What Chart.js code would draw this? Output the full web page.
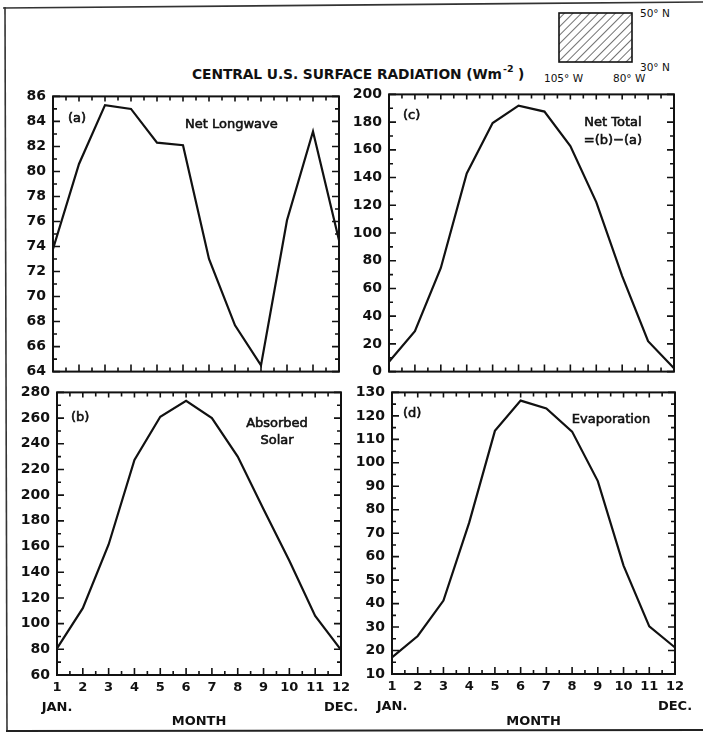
<!DOCTYPE html>
<html><head><meta charset="utf-8">
<script src="https://cdn.jsdelivr.net/npm/chart.js@4.4.0/dist/chart.umd.min.js"></script>
<style>
html,body{margin:0;padding:0;background:#fff;}
body{width:703px;height:741px;position:relative;overflow:hidden;font-family:"DejaVu Sans",sans-serif;}
canvas{position:absolute;}
svg{position:absolute;left:0;top:0;}
</style></head><body>
<svg width="703" height="741">
  <defs>
    <pattern id="hatch" width="6" height="6" patternUnits="userSpaceOnUse" patternTransform="rotate(45)">
      <line x1="0" y1="0" x2="0" y2="6" stroke="#111" stroke-width="1.2"/>
    </pattern>
  </defs>
  <line x1="3" y1="8" x2="703" y2="2" stroke="#333" stroke-width="1.6"/>
  <line x1="5" y1="7" x2="7" y2="731" stroke="#333" stroke-width="1.6"/>
  <line x1="6" y1="731" x2="703" y2="730" stroke="#222" stroke-width="2"/>
  <g font-family="DejaVu Sans" fill="#111">
    <text x="192" y="79" font-size="13.8" font-weight="bold" textLength="310" lengthAdjust="spacing">CENTRAL U.S. SURFACE RADIATION (Wm</text>
    <text x="503" y="72" font-size="9.5" font-weight="bold">-2</text>
    <text x="518" y="79" font-size="13.8" font-weight="bold">)</text>
    <rect x="559" y="13" width="73" height="49" fill="url(#hatch)" stroke="#111" stroke-width="1.6"/>
    <text x="640" y="17" font-size="10.5">50° N</text>
    <text x="640" y="71" font-size="10.5">30° N</text>
    <text x="544" y="82" font-size="10.5">105° W</text>
    <text x="613" y="82" font-size="10.5">80° W</text>
  </g>
</svg>
<canvas id="ca"></canvas>
<canvas id="cc"></canvas>
<canvas id="cb"></canvas>
<canvas id="cd"></canvas>
<script>
// ---- data ----
const months = ['1','2','3','4','5','6','7','8','9','10','11','12'];
const xTickLabels = [['1','JAN.'],'2','3','4','5','6','7','8','9','10','11',['12','DEC.']];
const netLongwave   = [73.8, 80.6, 85.3, 85.0, 82.3, 82.1, 73.0, 67.7, 64.5, 76.1, 83.2, 74.5];
const absorbedSolar = [80.8, 112.0, 161.6, 227.4, 261.0, 273.5, 260.0, 230.0, 189.0, 149.0, 106.0, 79.5];
const netTotal      = [7.1, 29.2, 74.8, 143.0, 179.3, 191.9, 187.6, 162.7, 122.3, 68.9, 21.9, 2.4];
const evaporation   = [17.1, 26.2, 41.3, 74.5, 113.6, 126.5, 123.2, 113.3, 92.2, 56.2, 30.3, 21.3];
// y-axis tick ranges [min, max, step]
const netLongwaveTicks   = [64, 86, 2];
const absorbedSolarTicks = [60, 280, 20];
const netTotalTicks      = [0, 200, 20];
const evaporationTicks   = [10, 130, 10];
// panel annotations
const labelsA = ['(a)', 'Net Longwave'];
const labelsB = ['(b)', 'Absorbed', 'Solar'];
const labelsC = ['(c)', 'Net Total', '=(b)−(a)'];
const labelsD = ['(d)', 'Evaporation'];
const xAxisTitle = 'MONTH';

const INK = '#111';
const framePlugin = {
  id: 'frameTicks',
  afterDatasetsDraw(chart, args, opts) {
    const {ctx, chartArea: a, scales: {x, y}} = chart;
    ctx.save();
    ctx.strokeStyle = INK;
    ctx.lineWidth = 1.6;
    ctx.beginPath();
    const yt = y.ticks.map(t => t.value);
    yt.forEach((v, i) => {
      const py = y.getPixelForValue(v);
      ctx.moveTo(a.left, py); ctx.lineTo(a.left + 7, py);
      ctx.moveTo(a.right, py); ctx.lineTo(a.right - 7, py);
      if (i < yt.length - 1) {
        const pm = y.getPixelForValue((v + yt[i + 1]) / 2);
        ctx.moveTo(a.left, pm); ctx.lineTo(a.left + 4, pm);
        ctx.moveTo(a.right, pm); ctx.lineTo(a.right - 4, pm);
      }
    });
    for (let i = 0; i < months.length; i++) {
      const px = x.getPixelForValue(i);
      ctx.moveTo(px, a.bottom); ctx.lineTo(px, a.bottom - 7);
      ctx.moveTo(px, a.top); ctx.lineTo(px, a.top + 5);
      if (i < months.length - 1) {
        const pm = x.getPixelForValue(i + 0.5);
        ctx.moveTo(pm, a.bottom); ctx.lineTo(pm, a.bottom - 4);
        ctx.moveTo(pm, a.top); ctx.lineTo(pm, a.top + 4);
      }
    }
    ctx.stroke();
    ctx.lineWidth = 2;
    ctx.strokeRect(a.left, a.top, a.right - a.left, a.bottom - a.top);
    ctx.fillStyle = INK;
    ctx.textBaseline = 'middle';
    ctx.font = '13px "DejaVu Sans"';
    ctx.lineWidth = 0.6;
    (opts.notes || []).forEach(n => {
      ctx.textAlign = n.align || 'left';
      ctx.fillText(n.text, a.left + n.dx, a.top + n.dy);
      ctx.strokeText(n.text, a.left + n.dx, a.top + n.dy);
    });
    ctx.restore();
  }
};

function makePanel(id, box, values, ticks, notes, bottomAxis) {
  const padTop = 15, padRight = 28;
  const cv = document.getElementById(id);
  const left = box.l - 55;
  const top = box.t - padTop;
  const w = (box.r - box.l) + 55 + padRight;
  const h = bottomAxis ? (741 - top) : (box.b - top + 12);
  cv.width = w; cv.height = h;
  cv.style.left = left + 'px'; cv.style.top = top + 'px';
  cv.style.width = w + 'px'; cv.style.height = h + 'px';
  new Chart(cv, {
    type: 'line',
    data: {
      labels: months,
      datasets: [{
        data: values,
        borderColor: INK,
        borderWidth: 2.2,
        pointRadius: 0,
        tension: 0,
        fill: false,
        clip: false
      }]
    },
    options: {
      responsive: false,
      animation: false,
      events: [],
      devicePixelRatio: 1,
      layout: {padding: {left: 0, top: padTop, right: padRight, bottom: bottomAxis ? 0 : 12}},
      plugins: {
        legend: {display: false},
        tooltip: {enabled: false},
        frameTicks: {notes: notes}
      },
      scales: {
        x: {
          type: 'category',
          offset: false,
          grid: {display: false, drawTicks: false},
          border: {display: false},
          ticks: {
            display: bottomAxis,
            autoSkip: false,
            maxRotation: 0, minRotation: 0,
            padding: 3,
            color: INK,
            font: {family: 'DejaVu Sans', size: 13, weight: 'bold', lineHeight: 1.5},
            callback: (v, i) => xTickLabels[i]
          },
          title: {
            display: bottomAxis,
            text: xAxisTitle,
            color: INK,
            font: {family: 'DejaVu Sans', size: 13, weight: 'bold', lineHeight: 1.2},
            padding: {top: 0, bottom: 12}
          },
          afterFit: s => { s.height = bottomAxis ? (741 - box.b) : 0; }
        },
        y: {
          type: 'linear',
          min: ticks[0], max: ticks[1],
          grid: {display: false, drawTicks: false},
          border: {display: false},
          ticks: {
            stepSize: ticks[2],
            autoSkip: false,
            padding: 7,
            color: INK,
            font: {family: 'DejaVu Sans', size: 14, weight: 'bold'}
          },
          afterFit: s => { s.width = 55; }
        }
      }
    },
    plugins: [framePlugin]
  });
}

makePanel('ca', {l: 53, t: 96, r: 339, b: 375}, netLongwave, netLongwaveTicks, [
  {text: labelsA[0], dx: 15, dy: 22},
  {text: labelsA[1], dx: 132, dy: 28}
], false);
makePanel('cc', {l: 389, t: 94, r: 674, b: 375}, netTotal, netTotalTicks, [
  {text: labelsC[0], dx: 14, dy: 21},
  {text: labelsC[1], dx: 224, dy: 28, align: 'center'},
  {text: labelsC[2], dx: 224, dy: 46, align: 'center'}
], false);
makePanel('cb', {l: 57, t: 392, r: 341, b: 675}, absorbedSolar, absorbedSolarTicks, [
  {text: labelsB[0], dx: 14, dy: 25},
  {text: labelsB[1], dx: 220, dy: 31, align: 'center'},
  {text: labelsB[2], dx: 220, dy: 48, align: 'center'}
], true);
makePanel('cd', {l: 392, t: 392, r: 675, b: 674}, evaporation, evaporationTicks, [
  {text: labelsD[0], dx: 11, dy: 21},
  {text: labelsD[1], dx: 219, dy: 27, align: 'center'}
], true);
</script>
</body></html>
